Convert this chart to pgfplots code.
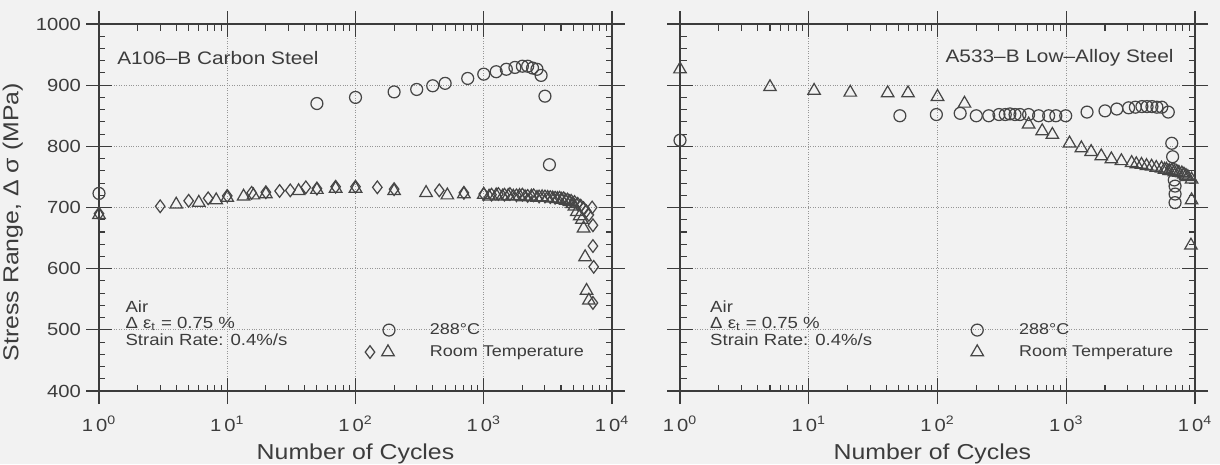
\documentclass[border=0pt]{standalone}
\usepackage{fontspec}
\setmainfont{Liberation Sans}[FakeStretch=1.15]
\usepackage{pgfplots}
\pgfplotsset{compat=1.18}

\definecolor{bg}{RGB}{242,242,242}
\definecolor{ink}{RGB}{60,60,60}
\definecolor{mk}{RGB}{70,70,70}
\definecolor{gridc}{RGB}{150,150,150}

\tikzset{
  note/.style={anchor=north west, align=left, inner sep=0pt, text=ink,
    font=\fontsize{9.2}{9.4}\selectfont},
  ttl/.style={inner sep=0pt, text=ink, font=\fontsize{10.3}{12}\selectfont},
}

\pgfplotsset{
  panel/.style={
    scale only axis,
    width=102.6mm, height=73.4mm,
    xmin=1, xmax=10000, ymin=400, ymax=1000,
    xtick={1,10,100,1000,10000},
    xticklabels={1\,0\textsuperscript{0},1\,0\textsuperscript{1},1\,0\textsuperscript{2},1\,0\textsuperscript{3},1\,0\textsuperscript{4}},
    ytick={400,500,...,1000},
    minor ytick={420,440,...,980},
    grid=major,
    major grid style={gridc, densely dotted, line width=0.5pt},
    axis line style={ink, line width=0.7pt},
    tick style={ink, line width=0.6pt},
    tick align=inside,
    major tick length=2.6mm,
    minor tick length=1.3mm,
    extra x ticks={1,10,100,1000,10000},
    extra y ticks={400,500,...,1000},
    extra x tick labels={},
    extra y tick labels={},
    extra tick style={grid=none, tick align=outside, major tick length=2.6mm},
    tick label style={font=\fontsize{10}{12}\selectfont, text=ink},
    xticklabel style={yshift=-3.8mm},
    yticklabel style={xshift=-2.4mm, /pgf/number format/1000 sep={},
      /pgf/number format/assume math mode=true},
    label style={font=\fontsize{12.3}{14}\selectfont, text=ink},
    xlabel={Number of Cycles},
    xlabel style={at={(axis description cs:0.5,-0.172)}, anchor=center},
    legend style={draw=none, fill=none, inner sep=0pt, outer sep=0pt,
      row sep=0pt, nodes={inner sep=0.3mm},
      font=\fontsize{8.9}{10}\selectfont, text=ink},
    legend cell align=left,
    clip=false,
  },
  pts/.style={only marks, mk, line width=0.7pt, mark options={draw=mk, fill=none}},
  circ/.style={pts, mark=o, mark size=3.4pt},
  diam/.style={pts, mark=diamond, mark size=3.6pt},
  tri/.style={pts, mark=triangle, mark size=4.1pt},
}

\begin{document}
\begin{tikzpicture}
\fill[bg] (0,0) rectangle (244mm,92.8mm);

% A106-B carbon steel
\begin{axis}[xmode=log, panel, at={(19.8mm,14.6mm)}, anchor=south west,
  ylabel={Stress Range, Δ σ (MPa)},
  ylabel style={at={(axis description cs:-0.168,0.46)}, anchor=center},
  legend style={at={(axis description cs:0.499,0.196)}, anchor=north west},
]
\addplot[circ, legend image code/.code={
    \path[draw=none, fill=none] (-3mm,-2.2mm) rectangle (11.7mm,2.2mm);
    \draw[mk, line width=0.7pt, mark size=3.4pt, mark=o] plot coordinates {(3.8mm,0mm)};
  }] coordinates {
  (1,723) (50,870) (100,880) (200,889) (300,893) (400,899) (500,903)
  (750,911) (1000,918) (1250,922) (1500,926) (1750,929) (2000,931)
  (2200,931) (2400,928) (2600,926) (2800,916) (3000,882) (3250,770)
};
\addlegendentry{288°C}
\addplot[diam, forget plot] coordinates {
  (1,690) (3,702) (5,711) (7.1,715) (10,719) (15.5,724) (20,725) (25.6,727)
  (31,728) (41,733) (50,731) (70,734) (100,734) (148,733) (200,730)
  (450,728) (700,724) (1000,722) (1150,721) (1300,722) (1450,721)
  (1600,722) (1800,720) (2000,721) (2200,719) (2450,720) (2700,718)
  (3000,718) (3300,717) (3600,716) (3900,716) (4200,715) (4500,713)
  (4800,711) (5100,709) (5400,706) (5700,703) (6000,699) (6300,694)
  (6600,688) (7000,700) (7100,671) (7100,637) (7200,603) (7100,544)
};
\addplot[tri, legend image code/.code={
    \path[draw=none, fill=none] (-3mm,-2.2mm) rectangle (11.7mm,2.2mm);
    \draw[mk, line width=0.7pt, mark size=3.6pt, mark=diamond] plot coordinates {(0mm,0mm)};
    \draw[mk, line width=0.7pt, mark size=4.1pt, mark=triangle] plot coordinates {(3.6mm,0mm)};
  }] coordinates {
  (1,688) (4,705) (6,708) (8.2,712) (10,716) (13.4,718) (16,720) (20,722)
  (36,727) (50,729) (70,731) (100,731) (200,727) (355,724) (520,720)
  (700,722) (1000,721) (1100,718) (1250,720) (1400,718) (1550,719)
  (1700,718) (1900,719) (2100,717) (2350,718) (2600,716) (2850,717)
  (3150,716) (3450,715) (3750,714) (4050,713) (4350,711) (4650,709)
  (4900,706) (5100,702) (5320,693) (5600,686) (5820,680) (6000,666)
  (6170,619) (6330,564) (6600,548)
};
\addlegendentry{Room Temperature}
\node[ttl, anchor=west] at (axis description cs:0.035,0.907) {A106–B Carbon Steel};
\node[note] at (axis description cs:0.051,0.248)
  {Air\\Δ ε\textsubscript{t} = 0.75 \%\\Strain Rate: 0.4\%/s};
\end{axis}

% A533-B low-alloy steel
\begin{axis}[xmode=log, panel, at={(136mm,14.6mm)}, anchor=south west,
  width=103mm, yticklabels={},
  xlabel style={at={(axis description cs:0.49,-0.172)}},
  legend style={at={(axis description cs:0.548,0.196)}, anchor=north west},
]
\addplot[circ, legend image code/.code={
    \path[draw=none, fill=none] (-3mm,-2.2mm) rectangle (8.1mm,2.2mm);
    \draw[mk, line width=0.7pt, mark size=3.4pt, mark=o] plot coordinates {(0mm,0mm)};
  }] coordinates {
  (1,810) (51,850) (98,852) (150,854) (200,850) (250,850) (300,852)
  (336,852) (365,853) (400,852) (437,852) (510,852) (610,850) (730,850)
  (830,850) (990,850) (1450,856) (2000,858) (2470,861) (3050,863)
  (3440,864) (3870,865) (4240,865) (4630,865) (5060,864) (5520,864)
  (6200,856) (6600,805) (6700,783) (6800,762) (6900,745) (7000,735)
  (7000,722) (7000,708)
};
\addlegendentry{288°C}
\addplot[tri, legend image code/.code={
    \path[draw=none, fill=none] (-3mm,-2.2mm) rectangle (8.1mm,2.2mm);
    \draw[mk, line width=0.7pt, mark size=4.1pt, mark=triangle] plot coordinates {(0mm,0mm)};
  }] coordinates {
  (1,926) (5,897) (11,891) (21,888) (41,887) (59,887) (100,881) (162,870)
  (510,836) (650,825) (780,819) (1060,805) (1310,797) (1560,791)
  (1870,784) (2240,779) (2680,776) (3220,773) (3500,771) (3840,770)
  (4200,768) (4600,767) (5000,765) (5500,764) (5800,762) (6000,762)
  (6300,760) (6600,760) (6900,758) (7200,758) (7500,757) (7900,756)
  (8200,754) (8500,752) (8800,750) (9400,746) (9400,712) (9300,638)
};
\addlegendentry{Room Temperature}
\node[ttl, anchor=east] at (axis description cs:0.959,0.907) {A533–B Low–Alloy Steel};
\node[note] at (axis description cs:0.058,0.248)
  {Air\\Δ ε\textsubscript{t} = 0.75 \%\\Strain Rate: 0.4\%/s};
\end{axis}

\pgfresetboundingbox
\path[use as bounding box] (0,0) rectangle (244mm,92.8mm);
\end{tikzpicture}
\end{document}
